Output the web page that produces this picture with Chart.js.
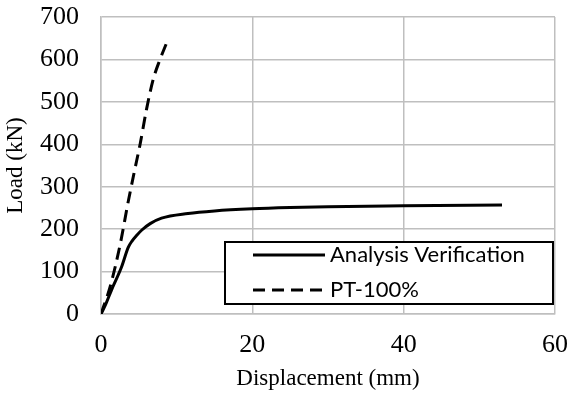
<!DOCTYPE html>
<html>
<head>
<meta charset="utf-8">
<script src="https://cdn.jsdelivr.net/npm/chart.js@4"></script>
<style>
  html, body { margin: 0; padding: 0; background: #fff; }
  #wrap { width: 570px; height: 396px; }
</style>
</head>
<body>
<div id="wrap"><canvas id="myChart" width="570" height="396"></canvas></div>
<script>
// Analysis Verification curve (displacement mm, load kN)
var analysisDisp = [0, 0.6, 1.4, 2.7, 3.6, 4.1, 4.7, 5.4, 6.5, 8.0, 11.5, 15, 20, 25, 30, 40, 53];
var analysisLoad = [0, 22, 57, 110, 157, 172, 185, 198, 213, 226, 237, 243, 248, 251, 253, 255, 257];

// PT-100% curve
var ptDisp = [0, 1.2, 2.5, 3.6, 4.4, 5.2, 6.0, 6.9, 7.8, 8.7];
var ptLoad = [0, 64, 161, 265, 335, 403, 481, 553, 600, 640];

var xTicks = [0, 20, 40, 60];
var yTicks = [0, 100, 200, 300, 400, 500, 600, 700];

function toPoints(xs, ys) {
    return xs.map(function (x, i) { return { x: x, y: ys[i] }; });
}

// Legend drawn as a framed box inside the plot, like the original
var boxLegend = {
    id: 'boxLegend',
    afterDraw: function (chart, args, opts) {
        var ctx = chart.ctx;
        ctx.save();
        ctx.fillStyle = '#fff';
        ctx.fillRect(opts.x, opts.y, opts.w, opts.h);
        ctx.lineWidth = 2;
        ctx.strokeStyle = '#000';
        ctx.strokeRect(opts.x, opts.y, opts.w, opts.h);
        ctx.font = opts.font;
        ctx.textBaseline = 'middle';
        chart.data.datasets.forEach(function (ds, i) {
            var cy = opts.y + opts.rowTop + i * opts.rowGap;
            ctx.beginPath();
            ctx.setLineDash(ds.borderDash || []);
            ctx.lineWidth = ds.borderWidth;
            ctx.strokeStyle = ds.borderColor;
            ctx.moveTo(opts.x + opts.lineStart, cy);
            ctx.lineTo(opts.x + opts.lineStart + opts.lineLen, cy);
            ctx.stroke();
            ctx.setLineDash([]);
            ctx.fillStyle = '#000';
            ctx.fillText(ds.label, opts.x + opts.lineStart + opts.lineLen + 5, cy);
        });
        ctx.restore();
    }
};

var serif = "'Liberation Serif', 'Times New Roman', serif";

function noEdgePadding(scale) {
    scale.paddingTop = 0;
    scale.paddingBottom = 0;
    scale.paddingLeft = 0;
    scale.paddingRight = 0;
}

new Chart(document.getElementById('myChart').getContext('2d'), {
    type: 'line',
    data: {
        datasets: [
            {
                label: 'Analysis Verification',
                data: toPoints(analysisDisp, analysisLoad),
                borderColor: '#000',
                borderWidth: 3,
                pointRadius: 0,
                cubicInterpolationMode: 'monotone',
                fill: false
            },
            {
                label: 'PT-100%',
                data: toPoints(ptDisp, ptLoad),
                borderColor: '#000',
                borderWidth: 3,
                borderDash: [12, 7],
                pointRadius: 0,
                cubicInterpolationMode: 'monotone',
                fill: false
            }
        ]
    },
    options: {
        responsive: false,
        animation: false,
        layout: { padding: { left: 0, right: 15, top: 17, bottom: 0 } },
        plugins: {
            legend: { display: false },
            tooltip: { enabled: false },
            boxLegend: {
                x: 225, y: 242, w: 328, h: 62,
                rowTop: 13, rowGap: 35,
                lineStart: 28, lineLen: 72,
                font: "22px Lato, 'Open Sans', sans-serif"
            }
        },
        scales: {
            x: {
                type: 'linear',
                min: 0,
                max: 60,
                afterBuildTicks: function (scale) {
                    scale.ticks = xTicks.map(function (v) { return { value: v }; });
                },
                afterFit: function (scale) { scale.height = 82; noEdgePadding(scale); },
                grid: { color: '#bfbfbf', lineWidth: 1.5, drawTicks: false },
                border: { color: '#bfbfbf', width: 1.5 },
                ticks: {
                    color: '#000',
                    padding: 16,
                    maxRotation: 0,
                    font: { family: serif, size: 26 }
                },
                title: {
                    display: true,
                    text: 'Displacement (mm)',
                    color: '#000',
                    padding: { top: 0, bottom: 3 },
                    font: { family: serif, size: 23 }
                }
            },
            y: {
                type: 'linear',
                min: 0,
                max: 700,
                afterBuildTicks: function (scale) {
                    scale.ticks = yTicks.map(function (v) { return { value: v }; });
                },
                afterFit: function (scale) { scale.width = 101; noEdgePadding(scale); },
                grid: { color: '#bfbfbf', lineWidth: 1.5, drawTicks: false },
                border: { color: '#bfbfbf', width: 1.5 },
                ticks: {
                    color: '#000',
                    padding: 22,
                    font: { family: serif, size: 26 }
                },
                title: {
                    display: true,
                    text: 'Load (kN)',
                    color: '#000',
                    padding: { top: 2, bottom: 0 },
                    font: { family: serif, size: 23 }
                }
            }
        }
    },
    plugins: [boxLegend]
});
</script>
</body>
</html>
